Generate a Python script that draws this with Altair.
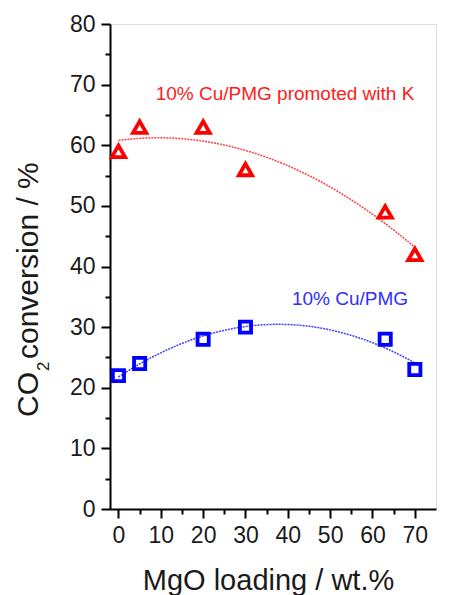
import altair as alt
import pandas as pd

# Measured CO2 conversion against MgO loading for the two catalyst series
mgo_loading = [0, 5, 20, 30, 63, 70]
conv_k_promoted = [59, 63, 63, 56, 49, 42]
conv_cu_pmg = [22, 24, 28, 30, 28, 23]

series_names = ["10% Cu/PMG promoted with K", "10% Cu/PMG"]
series_colors = ["#ff0000", "#0000ff"]
label_colors = ["#ff1a1a", "#2e2eff"]
series_shapes = ["triangle-up", "square"]

x_ticks = list(range(0, 75, 5))
y_ticks = list(range(0, 85, 5))

y_title_parts = ["CO", "2", "conversion / %"]
x_title = "MgO loading / wt.%"

FONT = "Liberation Sans"

df = pd.DataFrame({
    "MgO": mgo_loading * 2,
    "conv": conv_k_promoted + conv_cu_pmg,
    "series": [series_names[0]] * len(mgo_loading) + [series_names[1]] * len(mgo_loading),
})

major_test = "datum.value % 10 === 0"
tick_size = {"condition": {"test": major_test, "value": 9}, "value": 5}

x_enc = alt.X(
    "MgO:Q",
    scale=alt.Scale(domain=[-2, 75], nice=False, zero=False),
    axis=alt.Axis(
        values=x_ticks,
        labelExpr=f"{major_test} ? datum.label : ''",
        labelOverlap=False,
        grid=False,
        tickSize=tick_size,
        tickWidth=2,
        tickColor="#000000",
        domainWidth=2,
        domainColor="#000000",
        labelFont=FONT,
        labelFontSize=23,
        labelColor="#1a1a1a",
        labelPadding=6,
        title=x_title,
        titleFont=FONT,
        titleFontSize=29,
        titleFontWeight="normal",
        titleColor="#1a1a1a",
        titleBaseline="alphabetic",
        titleX=158,
        titleY=80,
    ),
)

y_enc = alt.Y(
    "conv:Q",
    scale=alt.Scale(domain=[0, 80], nice=False, zero=False),
    axis=alt.Axis(
        values=y_ticks,
        labelExpr=f"{major_test} ? datum.label : ''",
        labelOverlap=False,
        grid=False,
        tickSize=tick_size,
        tickWidth=2,
        tickColor="#000000",
        domainWidth=2,
        domainColor="#000000",
        labelFont=FONT,
        labelFontSize=23,
        labelColor="#1a1a1a",
        labelPadding=6,
        title=None,
    ),
)

color_enc = alt.Color(
    "series:N",
    scale=alt.Scale(domain=series_names, range=series_colors),
    legend=None,
)

base = alt.Chart(df)

# Second-order polynomial fits drawn as fine dotted curves
fits = base.transform_regression(
    "MgO", "conv", method="poly", order=2, groupby=["series"], extent=[0, 70]
).mark_line(strokeDash=[2, 1], strokeWidth=1.5, opacity=0.75).encode(
    x=x_enc, y=y_enc, color=color_enc
)

# Open markers for the measurements
points = base.mark_point(filled=False, strokeWidth=3.8, opacity=1).encode(
    x=x_enc,
    y=y_enc,
    color=color_enc,
    shape=alt.Shape(
        "series:N",
        scale=alt.Scale(domain=series_names, range=series_shapes),
        legend=None,
    ),
    size=alt.Size(
        "series:N",
        scale=alt.Scale(domain=series_names, range=[175, 125]),
        legend=None,
    ),
)

# Series labels inside the plot
def series_label(i, px, py):
    return alt.Chart(pd.DataFrame({"label": [series_names[i]]})).mark_text(
        font=FONT, fontSize=19, color=label_colors[i], align="center", baseline="middle"
    ).encode(x=alt.value(px), y=alt.value(py), text="label:N")

labels = [series_label(0, 175, 70), series_label(1, 240, 275)]

# Rotated y-axis title with a subscript digit
def title_piece(text, px, py, size):
    return alt.Chart(pd.DataFrame({"t": [text]})).mark_text(
        font=FONT, fontSize=size, color="#1a1a1a", angle=270,
        align="left", baseline="alphabetic",
    ).encode(x=alt.value(px), y=alt.value(py), text="t:N")

y_title = [
    title_piece(y_title_parts[0], -72, 393, 30),
    title_piece(y_title_parts[1], -61, 347, 17),
    title_piece(y_title_parts[2], -72, 335, 30),
]

chart = alt.layer(fits, points, *labels, *y_title).properties(
    width=326,
    height=485,
    autosize=alt.AutoSizeParams(type="none"),
    padding={"left": 110, "top": 24, "right": 15, "bottom": 86},
    background="#ffffff",
).configure_view(stroke="#000000", strokeWidth=2).configure(font=FONT)

chart.save("out.html", embed_options={"renderer": "svg", "actions": False})
